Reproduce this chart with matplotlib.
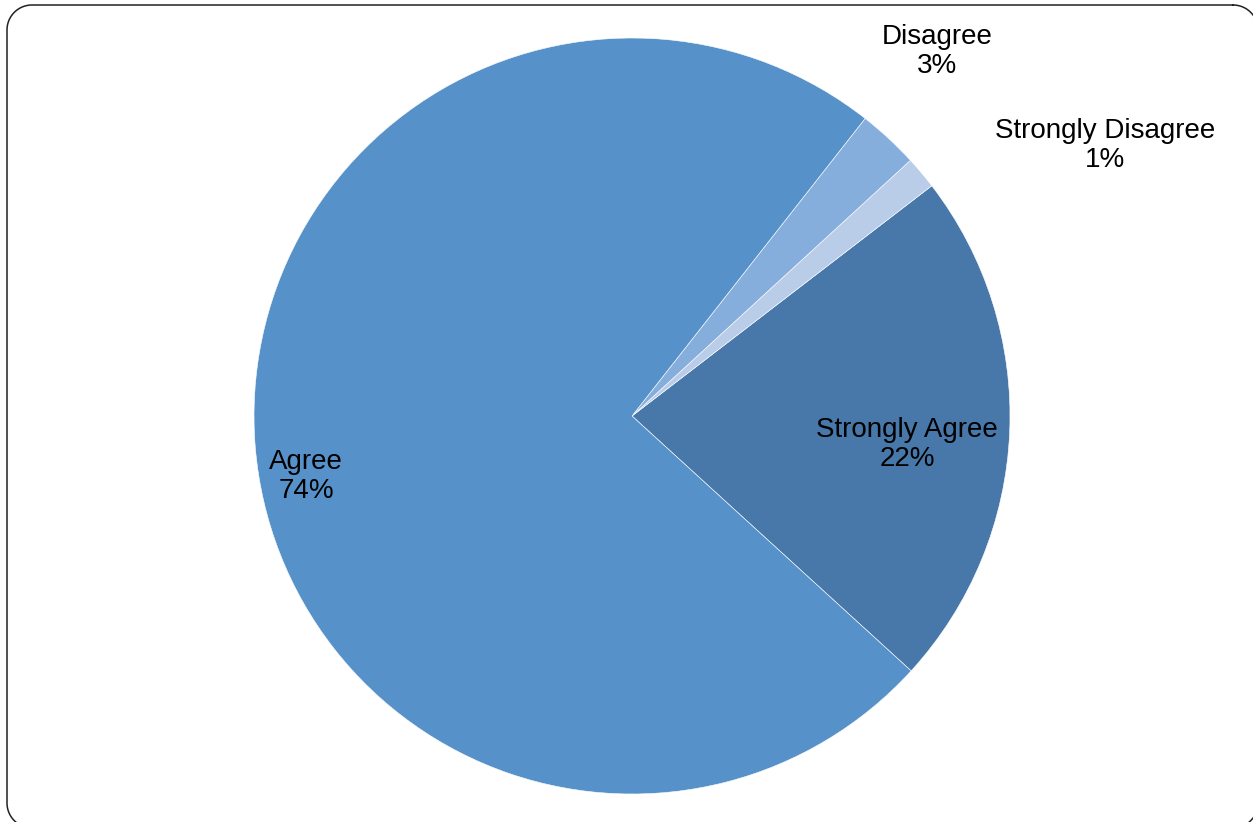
import numpy as np
import matplotlib.pyplot as plt
plt.rcParams['font.family'] = ['Liberation Sans', 'DejaVu Sans']

# survey answers (percent of respondents)
labels = ['Strongly Agree', 'Strongly Disagree', 'Disagree', 'Agree']
values = [22.2, 1.4, 2.6, 73.8]
colors = ['#4778A9', '#B9CDE9', '#86AEDC', '#5692C9']
# where each label sits (pie radius = 1)
label_pos = [(0.728, -0.076), (1.251, 0.715), (0.807, 0.963), (-0.862, -0.161)]

W, H, dpi = 1253, 822, 100
cx, cy, rpx = 632, 416, 378  # pie centre and radius in pixels


def rounded_rect(x0, y0, x1, y1, r, n=30):
    """outline of a rounded rectangle (y pointing down)"""
    pts = []
    corners = [(x1 - r, y0 + r, -90, 0), (x1 - r, y1 - r, 0, 90),
               (x0 + r, y1 - r, 90, 180), (x0 + r, y0 + r, 180, 270)]
    for ccx, ccy, a0, a1 in corners:
        t = np.radians(np.linspace(a0, a1, n))
        pts += list(zip(ccx + r*np.cos(t), ccy + r*np.sin(t)))
    pts.append(pts[0])
    return np.array(pts)


fig = plt.figure(figsize=(W/dpi, H/dpi), dpi=dpi)

# background axes in pixel units for the rounded frame
bg = fig.add_axes([0, 0, 1, 1])
bg.set_xlim(0, W)
bg.set_ylim(H, 0)
bg.axis('off')
outline = rounded_rect(7, 5, 1258, 828, 25)
bg.plot(outline[:, 0], outline[:, 1], color='#222222', lw=1.1)

ax = fig.add_axes([0, 0, 1, 1])
ax.pie(values, colors=colors, startangle=-42.4, counterclock=True,
       wedgeprops={'edgecolor': 'white', 'linewidth': 0.4})

total = sum(values)
for lab, v, (x, y) in zip(labels, values, label_pos):
    ax.text(x, y, '%s\n%d%%' % (lab, round(v/total*100)), ha='center', va='center',
            fontsize=20, linespacing=1.15, color='black')

ax.set_xlim(-cx/rpx, (W-cx)/rpx)
ax.set_ylim(-(H-cy)/rpx, cy/rpx)
ax.set_aspect('auto')
ax.axis('off')

fig.savefig('out.png', dpi=dpi)
